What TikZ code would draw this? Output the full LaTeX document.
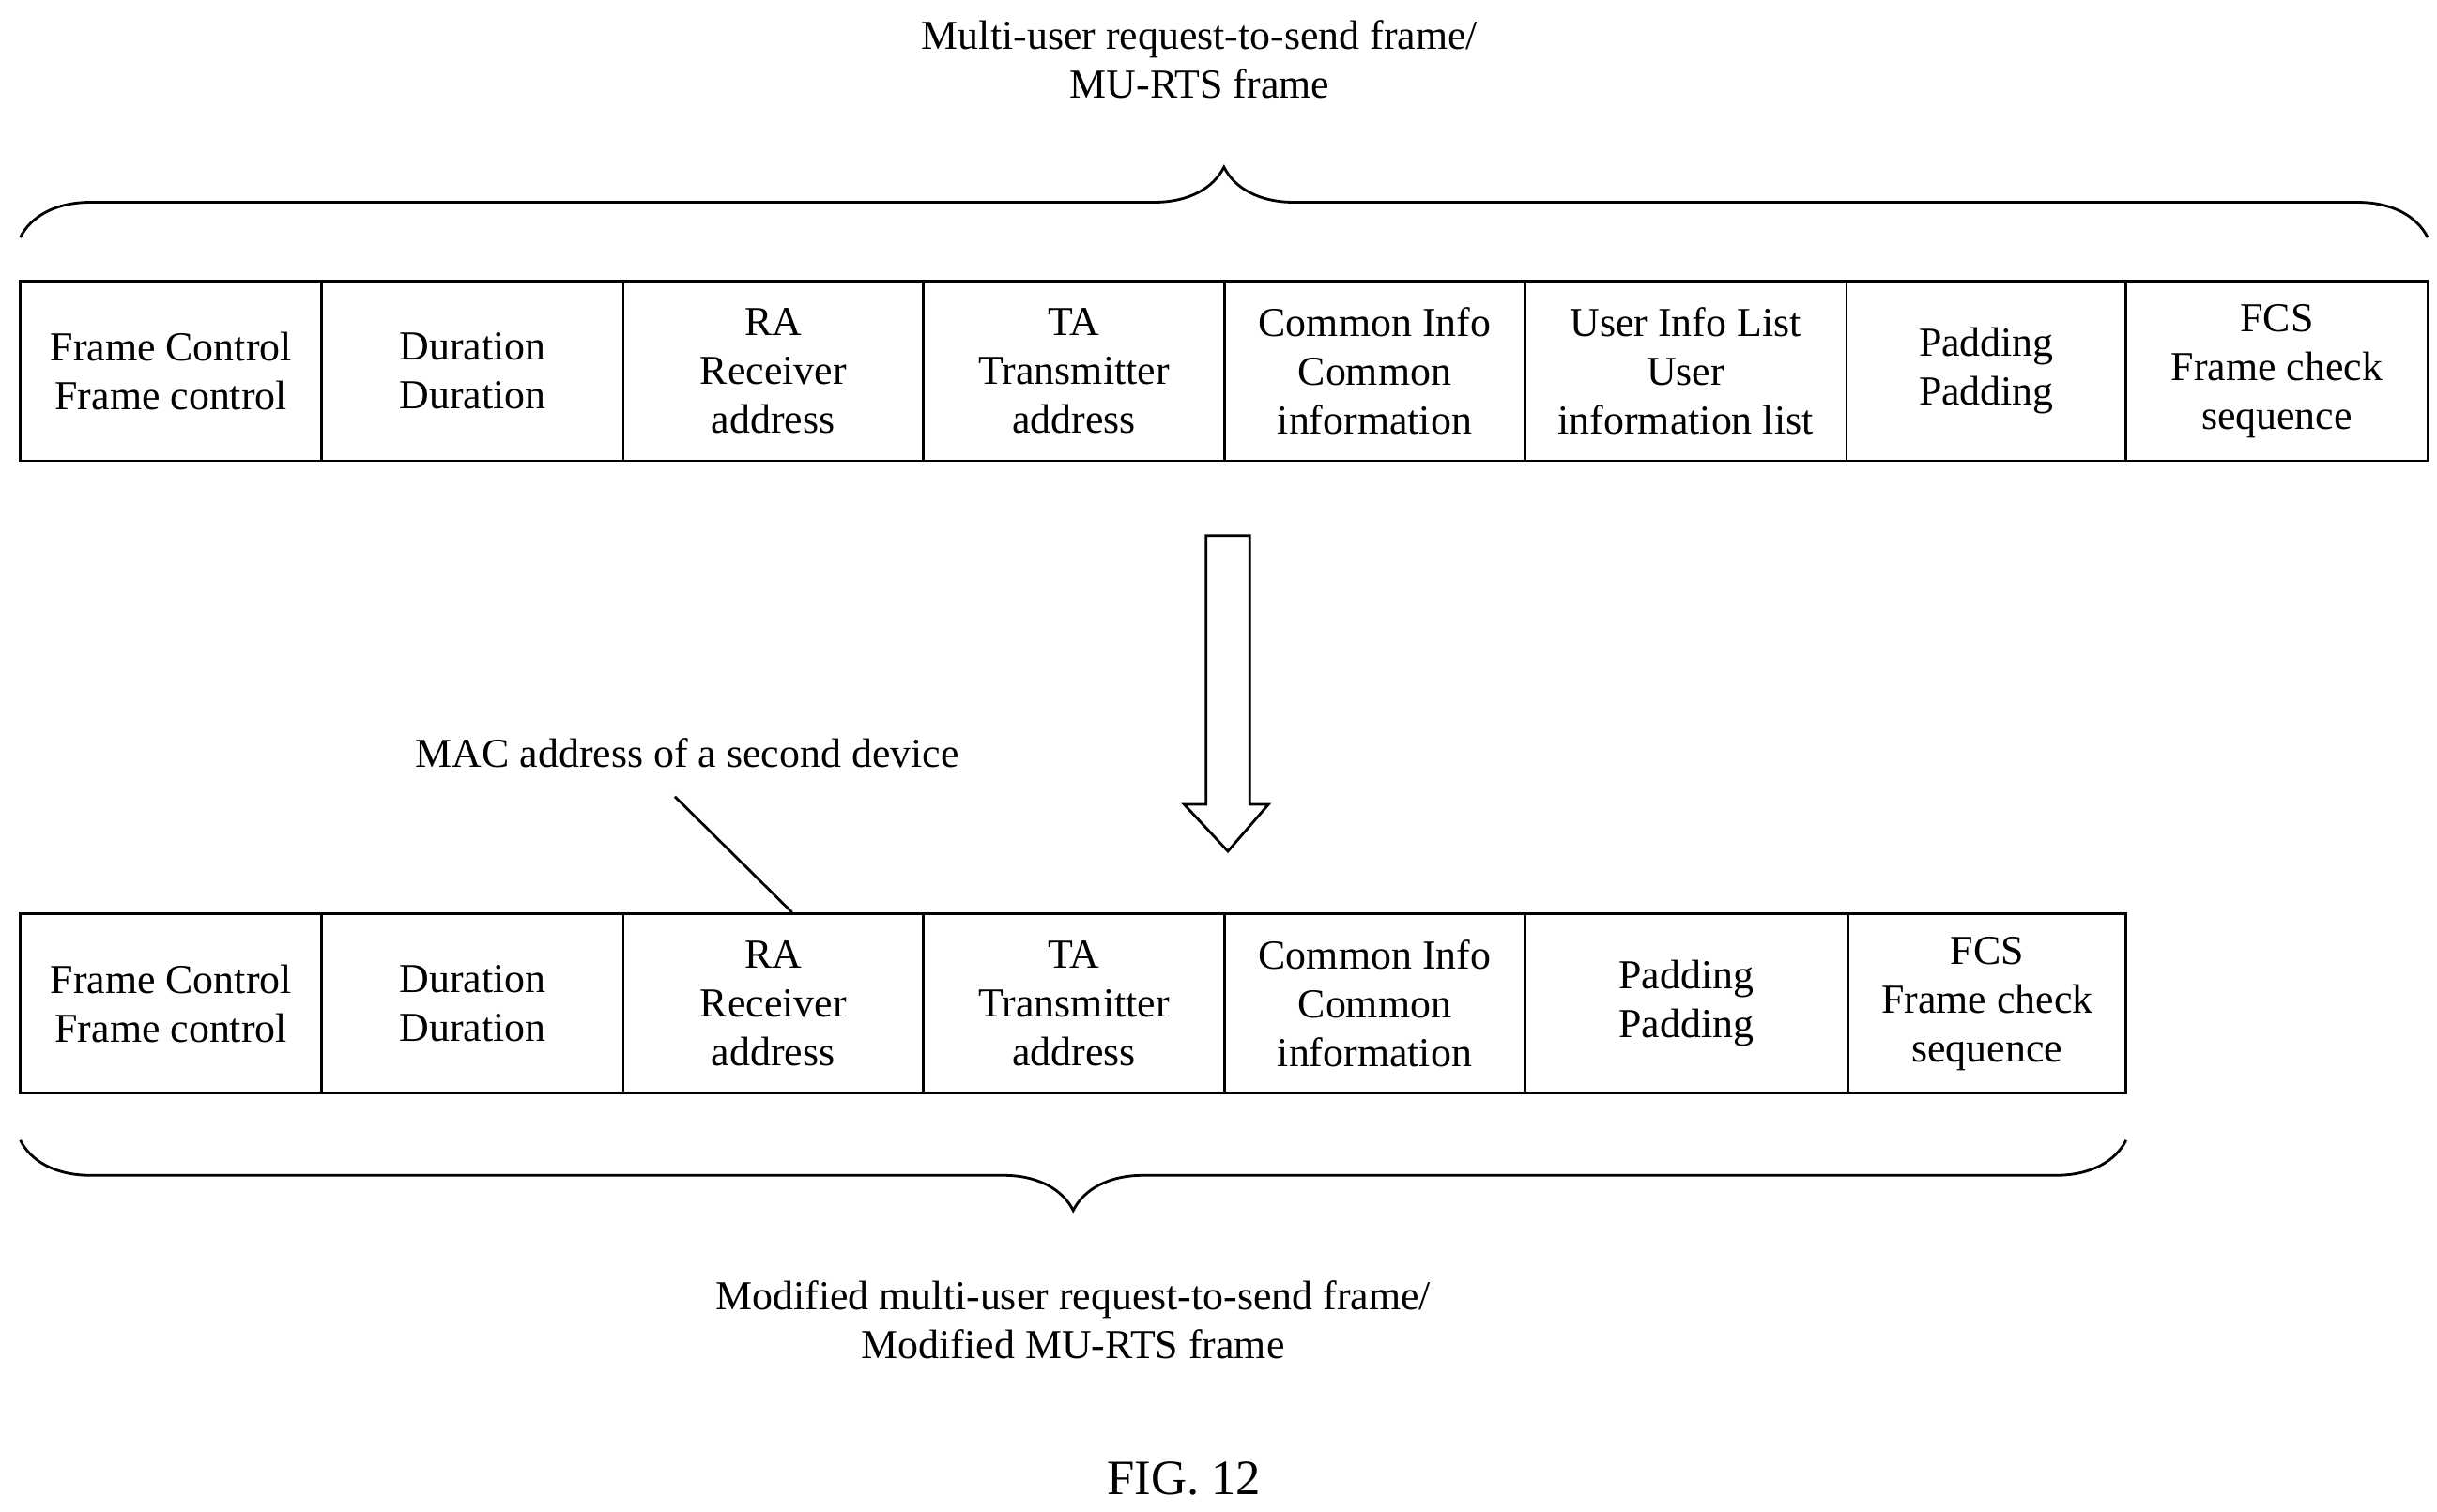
\documentclass[tikz,border=0pt]{standalone}
\usepackage{fontspec}
\setmainfont{Liberation Serif}
\usetikzlibrary{decorations.pathreplacing}
\tikzset{
  field/.style={draw, thick, inner sep=0pt, align=center, font=\fontsize{12.5}{14.8}\selectfont},
  lbl/.style={align=center, font=\fontsize{12.5}{14.8}\selectfont},
  bigbrace/.style={thick, decorate, decoration={brace, amplitude=0.75cm}}
}
\begin{document}
\begin{tikzpicture}[x=0.01667cm, y=-0.01667cm]
		\useasboundingbox (0,0) rectangle (1560,968);
		% top frame
		\node[lbl] (title) at (768,38) {Multi-user request-to-send frame/\\MU-RTS frame};
		\draw[bigbrace] (13,152) -- (1554,152);
		\node[field, minimum width=193*0.01667cm, minimum height=115*0.01667cm] (f1) at (109.5,237.5) {Frame Control\\Frame control};
		\node[field, minimum width=193*0.01667cm, minimum height=115*0.01667cm] (f2) at (302.5,237.5) {Duration\\Duration};
		\node[field, minimum width=192*0.01667cm, minimum height=115*0.01667cm] (f3) at (495,237.5) {RA\\Receiver\\address};
		\node[field, minimum width=193*0.01667cm, minimum height=115*0.01667cm] (f4) at (687.5,237.5) {TA\\Transmitter\\address};
		\node[field, minimum width=192*0.01667cm, minimum height=115*0.01667cm] (f5) at (880,237.5) {Common Info\\Common\\information};
		\node[field, minimum width=206*0.01667cm, minimum height=115*0.01667cm] (f6) at (1079,237.5) {User Info List\\User\\information list};
		\node[field, minimum width=179*0.01667cm, minimum height=115*0.01667cm] (f7) at (1271.5,237.5) {Padding\\Padding};
		\node[field, minimum width=193*0.01667cm, minimum height=115*0.01667cm] (f8) at (1457.5,237.5) {FCS\\Frame check\\sequence};
		% hollow arrow
		\draw[thick] (772,343) -- (800,343) -- (800,515) -- (812,515) -- (786,545) -- (758,515) -- (772,515) -- cycle;
		% bottom frame
		\node[field, minimum width=193*0.01667cm, minimum height=115*0.01667cm] (g1) at (109.5,642.5) {Frame Control\\Frame control};
		\node[field, minimum width=193*0.01667cm, minimum height=115*0.01667cm] (g2) at (302.5,642.5) {Duration\\Duration};
		\node[field, minimum width=192*0.01667cm, minimum height=115*0.01667cm] (g3) at (495,642.5) {RA\\Receiver\\address};
		\node[field, minimum width=193*0.01667cm, minimum height=115*0.01667cm] (g4) at (687.5,642.5) {TA\\Transmitter\\address};
		\node[field, minimum width=192*0.01667cm, minimum height=115*0.01667cm] (g5) at (880,642.5) {Common Info\\Common\\information};
		\node[field, minimum width=207*0.01667cm, minimum height=115*0.01667cm] (g6) at (1079.5,642.5) {Padding\\Padding};
		\node[field, minimum width=178*0.01667cm, minimum height=115*0.01667cm] (g7) at (1272,642.5) {FCS\\Frame check\\sequence};
		\node[lbl] (mac) at (440,482) {MAC address of a second device};
		\coordinate (macend) at (432,510);
		\draw[thick] (macend) -- ([xshift=12*0.01667cm]g3.north);
		\draw[bigbrace] (1361,730) -- (13,730);
		\node[lbl] (subtitle) at (687,845) {Modified multi-user request-to-send frame/\\Modified MU-RTS frame};
		\node[font=\fontsize{15}{18}\selectfont] (fig) at (758,947) {FIG. 12};
	\end{tikzpicture}
\end{document}
